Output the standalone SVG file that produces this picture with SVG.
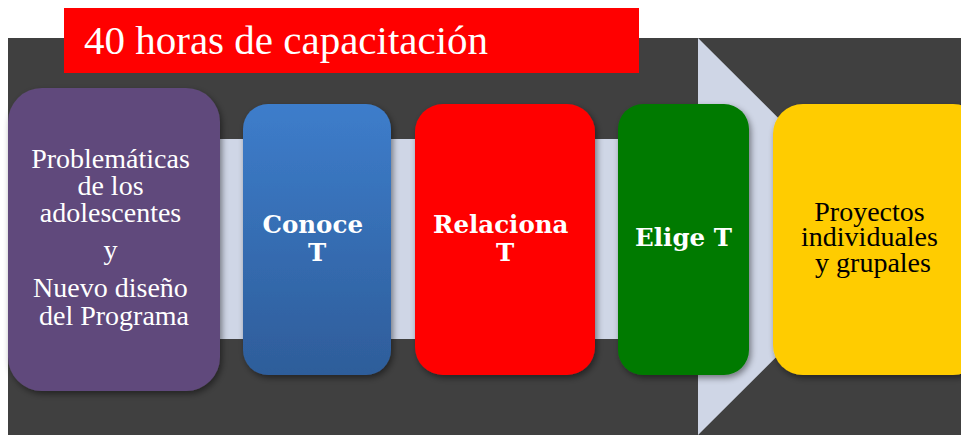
<svg xmlns="http://www.w3.org/2000/svg" width="961" height="435" viewBox="0 0 961 435">
  <defs>
    <linearGradient id="gBlue" x1="0" y1="0" x2="0" y2="1">
      <stop offset="0" stop-color="#3D7DCB"/>
      <stop offset="1" stop-color="#2E5D9A"/>
    </linearGradient>
    <filter id="shadow" x="-20%" y="-20%" width="140%" height="140%">
      <feDropShadow dx="2" dy="3" stdDeviation="3" flood-color="#000" flood-opacity="0.45"/>
    </filter>
  </defs>
  <style>
    .reg { font-family: "Liberation Serif", "Times New Roman", serif; font-size: 28px; text-anchor: middle; }
    .bold { font-family: "DejaVu Serif", serif; font-weight: bold; font-size: 24.5px; text-anchor: middle; fill: #FFFFFF; }
    .box { filter: url(#shadow); }
  </style>
  <rect x="0" y="0" width="961" height="435" fill="#FFFFFF"/>
  <rect id="background" x="8" y="38" width="953" height="397" fill="#404040"/>
  <g id="title">
    <rect x="64" y="8" width="575" height="65" fill="#FF0000"/>
    <text x="84" y="54" font-family="Liberation Serif, 'Times New Roman', serif" font-size="41" fill="#FFFFFF">40 horas de capacitación</text>
  </g>
  <g id="connectors">
    <polygon points="8,139 698,139 698,38 897,236.5 698,435 698,339 8,339" fill="#CFD6E6"/>
  </g>
  <g id="node-problematicas">
    <rect class="box" x="8" y="88" width="212" height="303" rx="34" ry="34" fill="#604A7B"/>
    <text class="reg" fill="#FFFFFF">
      <tspan x="114" y="168">Problemáticas</tspan>
      <tspan x="114" y="195">de los</tspan>
      <tspan x="114" y="222">adolescentes</tspan>
      <tspan x="114" y="259">y</tspan>
      <tspan x="114" y="297">Nuevo diseño</tspan>
      <tspan x="114" y="325">del Programa</tspan>
    </text>
  </g>
  <g id="node-conoce">
    <rect class="box" x="243" y="104" width="148" height="271" rx="25" ry="25" fill="url(#gBlue)"/>
    <text class="bold">
      <tspan x="317" y="233">Conoce</tspan>
      <tspan x="317" y="261">T</tspan>
    </text>
  </g>
  <g id="node-relaciona">
    <rect class="box" x="415" y="104" width="180" height="271" rx="28" ry="28" fill="#FF0000"/>
    <text class="bold">
      <tspan x="505" y="233">Relaciona</tspan>
      <tspan x="505" y="261">T</tspan>
    </text>
  </g>
  <g id="node-elige">
    <rect class="box" x="618" y="104" width="131" height="271" rx="25" ry="25" fill="#007A00"/>
    <text class="bold" x="683.5" y="246">Elige T</text>
  </g>
  <g id="node-proyectos">
    <rect class="box" x="773" y="104" width="210" height="271" rx="30" ry="30" fill="#FFCC00"/>
    <text class="reg" fill="#000000">
      <tspan x="873" y="221">Proyectos</tspan>
      <tspan x="873" y="246">individuales</tspan>
      <tspan x="873" y="272">y grupales</tspan>
    </text>
  </g>
</svg>
